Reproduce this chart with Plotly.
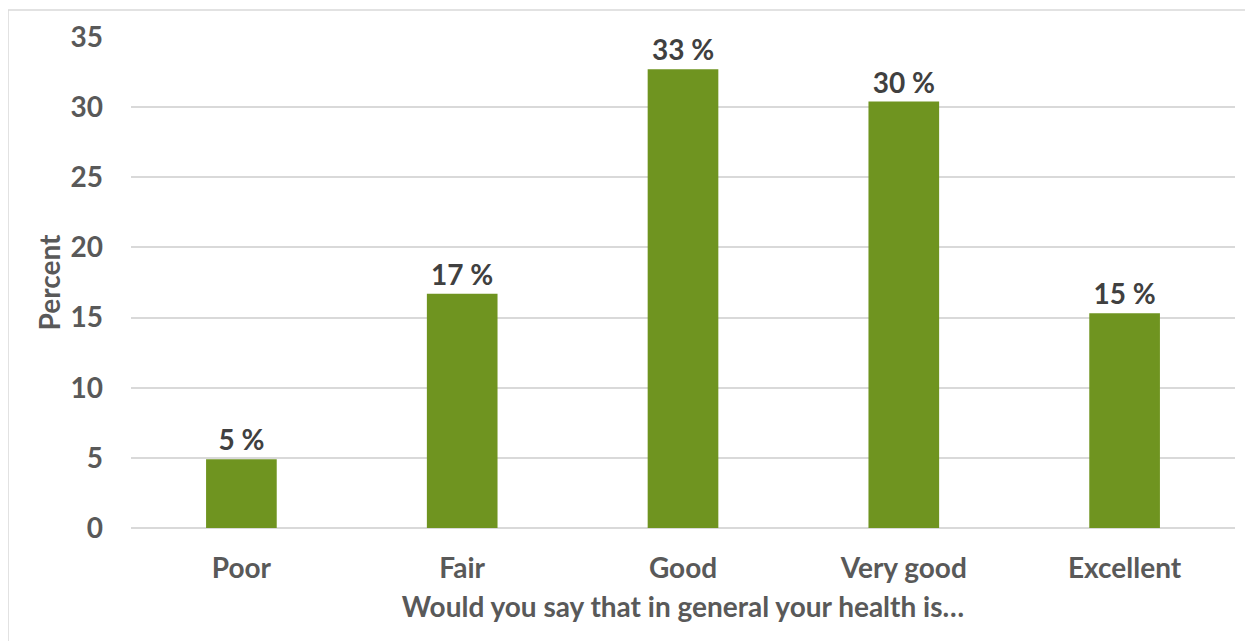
import plotly.graph_objects as go

categories = ["Poor", "Fair", "Good", "Very good", "Excellent"]
percent = [4.9, 16.7, 32.7, 30.4, 15.3]
tick_vals = [0, 5, 10, 15, 20, 25, 30, 35]

font_family = "Lato, Open Sans, sans-serif"
grey = "#595959"
FS = 28

fig = go.Figure(go.Bar(
    x=categories, y=percent,
    marker=dict(color="#6f9420", line=dict(width=0)),
    width=0.32,
    texttemplate="%{y:.0f} %", textposition="outside",
    textfont=dict(family=font_family, size=FS, color="#404040", weight="bold"),
    cliponaxis=False,
))

# page body has an 8px margin; figure is offset by (8, 8)
OFF = 8
W, H = 1253 - OFF, 641 - OFF
L, R, T = 131 - OFF, 18, 37 - OFF
B = H - (528 - OFF)
pw, ph = W - L - R, H - T - B

fig.update_layout(
    width=W, height=H,
    margin=dict(l=L, r=R, t=T, b=B),
    plot_bgcolor="white", paper_bgcolor="white",
    showlegend=False,
    font=dict(family=font_family, color=grey),
    xaxis=dict(
        showgrid=False, showline=False, ticks="",
        tickfont=dict(size=FS, color=grey, weight="bold"),
        ticklabelstandoff=21,
        title=dict(text="Would you say that in general your health is…",
                   font=dict(size=FS, color=grey, weight="bold"), standoff=14),
    ),
    yaxis=dict(
        range=[0, 35], tickvals=tick_vals,
        showgrid=True, gridcolor="#d9d9d9", gridwidth=1.5,
        zeroline=True, zerolinecolor="#d9d9d9", zerolinewidth=1.5,
        showline=False, ticks="",
        tickfont=dict(size=FS, color=grey, weight="bold"),
        ticklabelstandoff=27,
        title=dict(text="Percent", font=dict(size=FS, color=grey, weight="bold"), standoff=1),
    ),
    shapes=[dict(
        type="rect", xref="paper", yref="paper",
        x0=(8 - 131) / pw, x1=1.2, y0=-0.5, y1=(528 - 10) / ph,
        line=dict(color="#d9d9d9", width=1.5), fillcolor="rgba(0,0,0,0)", layer="below",
    )],
)

fig.write_html("out.html")
